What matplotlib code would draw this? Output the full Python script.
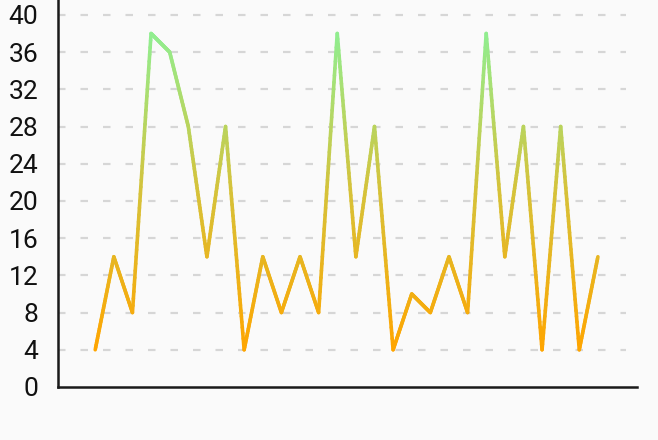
import numpy as np
import matplotlib
matplotlib.use("Agg")
import matplotlib.pyplot as plt
from matplotlib.collections import LineCollection
from matplotlib.colors import LinearSegmentedColormap

plt.rcParams['font.family'] = ['Roboto', 'DejaVu Sans']
plt.rcParams['lines.scale_dashes'] = False

# data
values = [4, 14, 8, 38, 36, 28, 14, 28, 4, 14, 8, 14, 8, 38, 14, 28,
          4, 10, 8, 14, 8, 38, 14, 28, 4, 28, 4, 14]
y_ticks = [0, 4, 8, 12, 16, 20, 24, 28, 32, 36, 40]

x = np.arange(len(values))
y = np.array(values, dtype=float)

fig = plt.figure(figsize=(6.58, 4.40), dpi=100, facecolor='#fafafa')
ax = fig.add_axes([0.0881, 0.1205, 0.88, 0.8795])
ax.set_facecolor('#fafafa')

# dashed grid lines
ax.hlines(y_ticks[1:], -2, 28.5, colors='#d6d6d6', linewidth=1.6,
          linestyles=(0, (5.4, 10.8)), zorder=1)

# gradient line: split each segment into short pieces coloured by height
cmap = LinearSegmentedColormap.from_list('og', ['#ffa500', '#d6c23a', '#90ee90'])
pts_x, pts_y = [], []
for i in range(len(x) - 1):
    t = np.linspace(0, 1, 40, endpoint=False)
    pts_x.extend(x[i] + (x[i + 1] - x[i]) * t)
    pts_y.extend(y[i] + (y[i + 1] - y[i]) * t)
pts_x.append(x[-1])
pts_y.append(y[-1])
pts = np.column_stack([pts_x, pts_y]).reshape(-1, 1, 2)
segs = np.concatenate([pts[:-1], pts[1:]], axis=1)
mid = (segs[:, 0, 1] + segs[:, 1, 1]) / 2
lc = LineCollection(segs, cmap=cmap, norm=plt.Normalize(y.min(), y.max()),
                    linewidth=2.6, capstyle='round', joinstyle='round', zorder=3)
lc.set_array(mid)
ax.add_collection(lc)

ax.set_xlim(-2, 29.1)
ax.set_ylim(0, 41.6)
ax.set_xticks([])
ax.set_yticks(y_ticks)
ax.tick_params(axis='y', length=0, pad=14, labelsize=19, labelcolor='#111111')
for s in ['top', 'right']:
    ax.spines[s].set_visible(False)
for s in ['left', 'bottom']:
    ax.spines[s].set_color('#1a1a1a')
    ax.spines[s].set_linewidth(1.8)

fig.savefig('out.png', dpi=100, facecolor='#fafafa')
